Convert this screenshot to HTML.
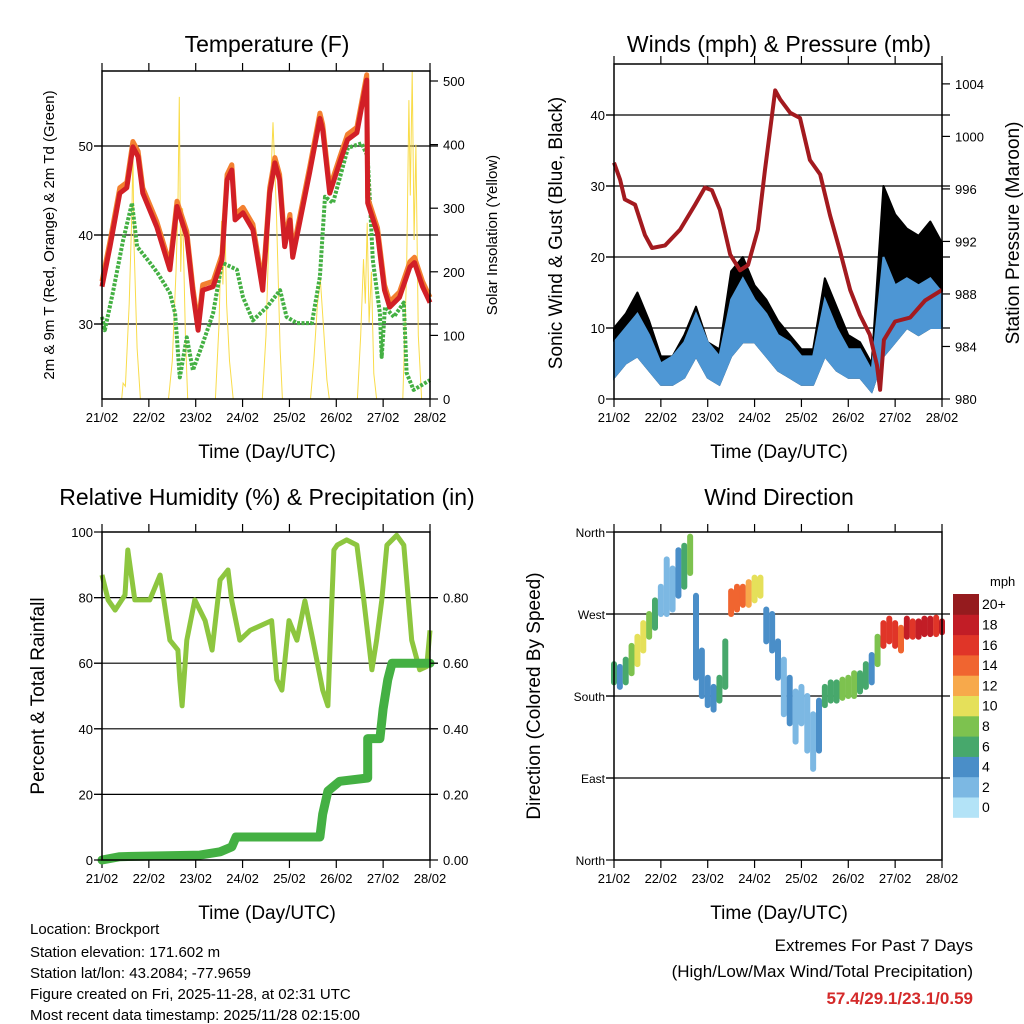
<!DOCTYPE html>
<html><head><meta charset="utf-8"><style>
html,body{margin:0;padding:0;background:#fff;}
svg{display:block;font-family:"Liberation Sans",Arial,sans-serif;}
</style></head><body>
<svg id="s" width="1024" height="1024" viewBox="0 0 1024 1024" xmlns="http://www.w3.org/2000/svg">
<rect width="1024" height="1024" fill="#fff"/>
<g id="g"></g>
<text x="267" y="52" font-size="23" text-anchor="middle">Temperature (F)</text>
<text x="779" y="52" font-size="23" text-anchor="middle">Winds (mph) &amp; Pressure (mb)</text>
<text x="267" y="505" font-size="23" text-anchor="middle">Relative Humidity (%) &amp; Precipitation (in)</text>
<text x="779" y="505" font-size="23" text-anchor="middle">Wind Direction</text>
<text x="267" y="458" font-size="19" text-anchor="middle">Time (Day/UTC)</text>
<text x="779" y="458" font-size="19" text-anchor="middle">Time (Day/UTC)</text>
<text x="267" y="919" font-size="19" text-anchor="middle">Time (Day/UTC)</text>
<text x="779" y="919" font-size="19" text-anchor="middle">Time (Day/UTC)</text>
<text transform="translate(54,235) rotate(-90)" font-size="15" text-anchor="middle">2m &amp; 9m T (Red, Orange) &amp; 2m Td (Green)</text>
<text transform="translate(497,235) rotate(-90)" font-size="15" text-anchor="middle">Solar Insolation (Yellow)</text>
<text transform="translate(562,233) rotate(-90)" font-size="19" text-anchor="middle">Sonic Wind &amp; Gust (Blue, Black)</text>
<text transform="translate(1019,233) rotate(-90)" font-size="19" text-anchor="middle">Station Pressure (Maroon)</text>
<text transform="translate(44,696) rotate(-90)" font-size="19" text-anchor="middle">Percent &amp; Total Rainfall</text>
<text transform="translate(540,696) rotate(-90)" font-size="19" text-anchor="middle">Direction (Colored By Speed)</text>
<g font-size="15">
<text x="30" y="934">Location: Brockport</text>
<text x="30" y="957">Station elevation: 171.602 m</text>
<text x="30" y="978">Station lat/lon: 43.2084; -77.9659</text>
<text x="30" y="999">Figure created on Fri, 2025-11-28, at 02:31 UTC</text>
<text x="30" y="1020">Most recent data timestamp: 2025/11/28 02:15:00</text>
</g>
<g font-size="17" text-anchor="end">
<text x="973" y="951">Extremes For Past 7 Days</text>
<text x="973" y="977">(High/Low/Max Wind/Total Precipitation)</text>
<text x="973" y="1004" fill="#d42a2a" font-weight="bold">57.4/29.1/23.1/0.59</text>
</g>
</svg>
<script>
// ---------- data ----------
const dayLabels=["21/02","22/02","23/02","24/02","25/02","26/02","27/02","28/02"];
const tempT=[0,0.17,0.38,0.53,0.66,0.77,0.87,1.17,1.45,1.6,1.81,1.94,2.05,2.15,2.37,2.56,2.67,2.77,2.84,3.01,3.22,3.43,3.58,3.69,3.79,3.9,4.01,4.07,4.26,4.43,4.65,4.71,4.86,5.07,5.24,5.44,5.65,5.67,5.88,6.03,6.14,6.35,6.57,6.67,6.84,7.0];
const tempV=[34.2,38.7,44.7,45.3,49.9,48.8,44.7,40.9,36.1,43.2,39.8,33.5,29.3,33.8,34.2,37.2,46.2,47.3,41.7,42.5,40.6,33.8,44.7,48.1,46.2,38.7,41.7,37.5,42.5,47.0,53.1,51.8,44.7,48.1,50.7,51.5,57.4,43.6,40.2,33.8,31.9,33.0,36.4,36.9,34.2,32.4];
const dewT=[0,0.06,0.23,0.45,0.64,0.75,1.02,1.19,1.45,1.56,1.66,1.81,1.94,2.15,2.37,2.56,2.88,3.01,3.22,3.52,3.8,3.94,4.16,4.48,4.65,4.76,4.93,5.25,5.54,5.67,5.78,5.93,5.97,6.04,6.23,6.44,6.5,6.65,7.0];
const dewV=[30.8,29.3,33.5,39.4,43.6,38.7,36.9,35.7,33.5,31.2,24.0,28.5,24.8,27.8,31.2,36.9,36.1,33.0,30.4,31.9,33.8,30.8,30.1,30.1,35.3,44.3,43.6,49.8,50.3,48.8,37.2,31.2,26.3,31.9,30.8,32.4,24.5,22.6,23.7];
const solarT=[0,0.42,0.45,0.5,0.58,0.64,0.66,0.68,0.75,0.82,1.42,1.5,1.58,1.62,1.65,1.68,1.72,1.78,1.83,2.42,2.5,2.55,2.58,2.62,2.66,2.72,2.8,3.42,3.5,3.58,3.65,3.72,3.8,3.85,4.45,4.52,4.6,4.66,4.72,4.8,4.85,5.45,5.52,5.58,5.62,5.66,5.7,5.75,5.8,5.86,6.42,6.5,6.55,6.58,6.62,6.66,6.7,6.75,6.82,7.0];
const solarV=[0,0,25,20,150,300,395,250,80,0,0,60,200,300,475,200,300,100,0,0,120,280,180,290,150,60,0,0,100,300,435,300,80,0,0,60,150,187,120,30,0,0,100,220,150,277,120,200,40,0,0,200,470,320,515,250,400,100,0,0];
const windT=[0,0.25,0.5,0.75,1,1.25,1.5,1.75,2,2.25,2.5,2.75,3,3.25,3.5,3.75,4,4.25,4.5,4.75,5,5.25,5.5,5.75,6,6.25,6.5,6.75,7];
const windLo=[3,5,6,4,2,2,3,6,3,2,6,8,8,6,4,3,2,2,6,4,3,3,1,6,8,10,9,10,10];
const windHi=[8,10,12,9,5,6,8,12,8,6,14,17,14,12,9,8,6,6,14,10,7,7,4,20,16,17,16,17,15];
const gustHi=[10,12,15,11,6,6,9,13,8,7,18,20,16,14,11,9,7,7,17,13,9,8,5,30,26,24,23,25,22];
const presT=[0,0.13,0.23,0.45,0.66,0.81,1.09,1.41,1.73,1.94,2.09,2.26,2.48,2.69,2.86,3.07,3.22,3.44,3.55,3.76,3.97,4.18,4.40,4.61,4.82,5.04,5.25,5.46,5.61,5.68,5.76,6.0,6.32,6.64,7.0];
const presV=[998.0,996.7,995.2,994.8,992.5,991.5,991.7,992.9,994.8,996.1,995.9,994.4,991.0,989.8,990.2,992.9,997.4,1003.5,1002.8,1001.8,1001.4,998.2,997.1,994.0,991.3,988.3,986.4,984.9,982.6,980.7,984.5,985.9,986.2,987.5,988.3];
const rhT=[0,0.13,0.28,0.49,0.55,0.7,1.02,1.24,1.45,1.62,1.66,1.71,1.81,1.98,2.2,2.35,2.52,2.69,2.77,2.94,3.16,3.62,3.73,3.84,3.99,4.16,4.33,4.5,4.71,4.82,4.88,4.95,5.02,5.22,5.44,5.59,5.76,5.86,5.97,6.08,6.29,6.44,6.61,6.78,6.93,7.0];
const rhV=[86.9,79.3,76.2,80.8,94.5,79.3,79.3,86.9,67,64,55,47,67,79.3,73,64,85.4,88.4,79,67,70,73,55,51.8,73,67,79,67,51.8,47,70,94.5,96,97.6,96,79,58,67,79,96,99,96,67,58,59,70];
const prT=[0,0.38,2.09,2.52,2.77,2.86,4.65,4.71,4.82,5.07,5.67,5.67,5.93,6.0,6.1,6.19,7.0];
const prV=[0,0.01,0.015,0.025,0.04,0.07,0.07,0.14,0.21,0.24,0.25,0.37,0.37,0.46,0.55,0.60,0.60];
const dirT=[0,0.125,0.25,0.375,0.5,0.625,0.75,0.875,1,1.125,1.25,1.375,1.5,1.625,1.75,1.875,2,2.125,2.25,2.375,2.5,2.625,2.75,2.875,3,3.125,3.25,3.375,3.5,3.625,3.75,3.875,4,4.125,4.25,4.375,4.5,4.625,4.75,4.875,5,5.125,5.25,5.375,5.5,5.625,5.75,5.875,6,6.125,6.25,6.375,6.5,6.625,6.75,6.875,7];
const dirLo=[195,190,195,205,215,230,245,255,270,270,275,290,300,315,200,180,170,165,175,190,270,275,280,280,285,290,240,230,200,160,150,130,150,120,100,120,170,175,175,178,180,180,185,190,195,215,235,240,235,230,245,245,245,248,248,248,250];
const dirHi=[215,212,220,235,245,260,270,285,300,330,320,340,345,355,290,230,200,190,200,240,295,300,300,305,310,310,275,270,240,220,200,185,190,180,160,175,190,195,195,198,200,205,205,215,225,245,260,265,260,255,265,262,262,265,265,266,262];
const dirSpd=[6,5,7,9,10,11,8,6,3,2,3,5,7,9,4,5,4,5,6,7,14,15,14,12,11,10,4,5,4,3,4,3,2,3,3,4,6,7,7,8,9,8,7,6,5,9,16,17,16,14,18,17,18,19,18,17,18];
const speedLabels=["0","2","4","6","8","10","12","14","16","18","20+"];
const speedColors=["#b3e3f7","#7cb8e3","#4a8ec8","#47a86c","#7dc24f","#e5e05a","#f7a94b","#f06530","#e03528","#c21d26","#951b1e"];
// ---------- helpers ----------
const NS="http://www.w3.org/2000/svg";
const G=document.getElementById('g');
function mk(tag,attrs,parent){const e=document.createElementNS(NS,tag);for(const k in attrs)e.setAttribute(k,attrs[k]);(parent||G).appendChild(e);return e;}
function sx(x0,x1){return d=>x0+(x1-x0)*d/7;}
const P1={x0:102,x1:430,y0:71,y1:399},P2={x0:614,x1:942,y0:64,y1:399},P3={x0:102,x1:430,y0:532,y1:860},P4={x0:614,x1:942,y0:532,y1:860};
const y1L=v=>324-(v-30)*8.9, y1R=w=>399-w*0.636;
const y2L=v=>399-v*7.1, y2R=p=>399-(p-980)*13.13;
const y3=v=>860-v*3.28;
const y4=d=>860-d*0.911;
function pts(T,V,X,Y){return T.map((t,i)=>X(t).toFixed(1)+','+Y(V[i]).toFixed(1)).join(' ');}
function frame(P,name,grid,Y){
  const g=mk('g',{});
  
  
  grid.forEach(v=>{mk('line',{x1:P.x0-8,x2:P.x1+8,y1:Y(v),y2:Y(v),stroke:'#000','stroke-width':1.2},g);});
  const X=sx(P.x0,P.x1);
  dayLabels.forEach((lab,i)=>{
    mk('line',{x1:X(i),x2:X(i),y1:P.y1,y2:P.y1+8,stroke:'#000','stroke-width':1.2},g);
    mk('line',{x1:X(i),x2:X(i),y1:P.y0,y2:P.y0-8,stroke:'#000','stroke-width':1.2},g);
    const t=mk('text',{x:X(i),y:P.y1+23,'font-size':13,'text-anchor':'middle'},g);t.textContent=lab;
    
    
  });
  return g;
}
function border(P){const r=mk('rect',{x:P.x0,y:P.y0,width:P.x1-P.x0,height:P.y1-P.y0,fill:'none',stroke:'#000','stroke-width':1.5});

}
function yLabels(P,vals,labs,Y,side,size){vals.forEach((v,i)=>{
  const t=mk('text',{x:side=='l'?P.x0-9:P.x1+13,y:Y(v)+5,'font-size':size||13,'text-anchor':side=='l'?'end':'start'});t.textContent=labs[i];
  
  
  if(side=='r')mk('line',{x1:P.x1,x2:P.x1+8,y1:Y(v),y2:Y(v),stroke:'#000','stroke-width':1.2});
  else mk('line',{x1:P.x0-8,x2:P.x0,y1:Y(v),y2:Y(v),stroke:'#000','stroke-width':1.2});
});}
// ---------- panel 1 ----------
frame(P1,'temperature',[30,40,50],y1L);
{const X=sx(P1.x0,P1.x1);
const s=mk('polyline',{points:pts(solarT,solarV,X,y1R),fill:'none',stroke:'#f9dc4a','stroke-width':1});


const d=mk('polyline',{points:pts(dewT,dewV,X,y1L),fill:'none',stroke:'#44b043','stroke-width':4,'stroke-dasharray':'3 1.5','stroke-linejoin':'round'});


const o=mk('polyline',{points:pts(tempT,tempV.map(v=>v+0.6),X,y1L),fill:'none',stroke:'#f38030','stroke-width':5,'stroke-linejoin':'round'});


const r=mk('polyline',{points:pts(tempT,tempV,X,y1L),fill:'none',stroke:'#d21f26','stroke-width':5,'stroke-linejoin':'round'});

}
border(P1);
yLabels(P1,[30,40,50],["30","40","50"],y1L,'l');
yLabels(P1,[0,100,200,300,400,500],["0","100","200","300","400","500"],y1R,'r');
// ---------- panel 2 ----------
frame(P2,'winds',[10,20,30,40],y2L);
{const X=sx(P2.x0,P2.x1);
const gp=windT.map((t,i)=>X(t)+','+y2L(gustHi[i])).concat(windT.slice().reverse().map((t,j)=>{const i=windT.length-1-j;return X(t)+','+y2L(windLo[i]);})).join(' ');
const g=mk('polygon',{points:gp,fill:'#000',stroke:'#000','stroke-width':2,'stroke-linejoin':'round'});


const bp=windT.map((t,i)=>X(t)+','+y2L(windHi[i])).concat(windT.slice().reverse().map((t,j)=>{const i=windT.length-1-j;return X(t)+','+y2L(windLo[i]);})).join(' ');
const b=mk('polygon',{points:bp,fill:'#4d96d4',stroke:'#4d96d4','stroke-width':2});


const p=mk('polyline',{points:pts(presT,presV,X,y2R),fill:'none',stroke:'#a31a1f','stroke-width':4,'stroke-linejoin':'round'});

}
border(P2);
yLabels(P2,[0,10,20,30,40],["0","10","20","30","40"],y2L,'l');
yLabels(P2,[980,984,988,992,996,1000,1004],["980","984","988","992","996","1000","1004"],y2R,'r');
// ---------- panel 3 ----------
frame(P3,'humidity',[20,40,60,80],y3);
{const X=sx(P3.x0,P3.x1);
const r=mk('polyline',{points:pts(rhT,rhV,X,y3),fill:'none',stroke:'#8dc63f','stroke-width':5,'stroke-linejoin':'round'});


const p=mk('polyline',{points:pts(prT,prV.map(v=>v*100),X,y3),fill:'none',stroke:'#44b043','stroke-width':9,'stroke-linejoin':'round','stroke-linecap':'round'});

}
border(P3);
yLabels(P3,[0,20,40,60,80,100],["0","20","40","60","80","100"],y3,'l');
yLabels(P3,[0,20,40,60,80],["0.00","0.20","0.40","0.60","0.80"],y3,'r');
// ---------- panel 4 ----------
frame(P4,'direction',[90,180,270],y4);
{const X=sx(P4.x0,P4.x1);
dirT.forEach((t,i)=>{
  const c=speedColors[Math.min(10,Math.floor(dirSpd[i]/2))];
  const l=mk('line',{x1:X(t),x2:X(t),y1:y4(dirLo[i]),y2:y4(dirHi[i]),stroke:c,'stroke-width':6,'stroke-linecap':'round'});
  
  
});}
border(P4);
yLabels(P4,[0,90,180,270,360],["North","East","South","West","North"],y4,'l',12);
// colorbar
{const cb=mk('g',{});


const h=20.3,top=594;
const mt=mk('text',{x:990,y:586,'font-size':13},cb);mt.textContent='mph';
speedLabels.forEach((lab,i)=>{
  const y=top+(10-i)*h;
  mk('rect',{x:953,y:y,width:26,height:h+0.5,fill:speedColors[i]},cb);
  const t=mk('text',{x:982,y:y+h/2+5,'font-size':14},cb);t.textContent=lab;
});}
</script>
</body></html>
